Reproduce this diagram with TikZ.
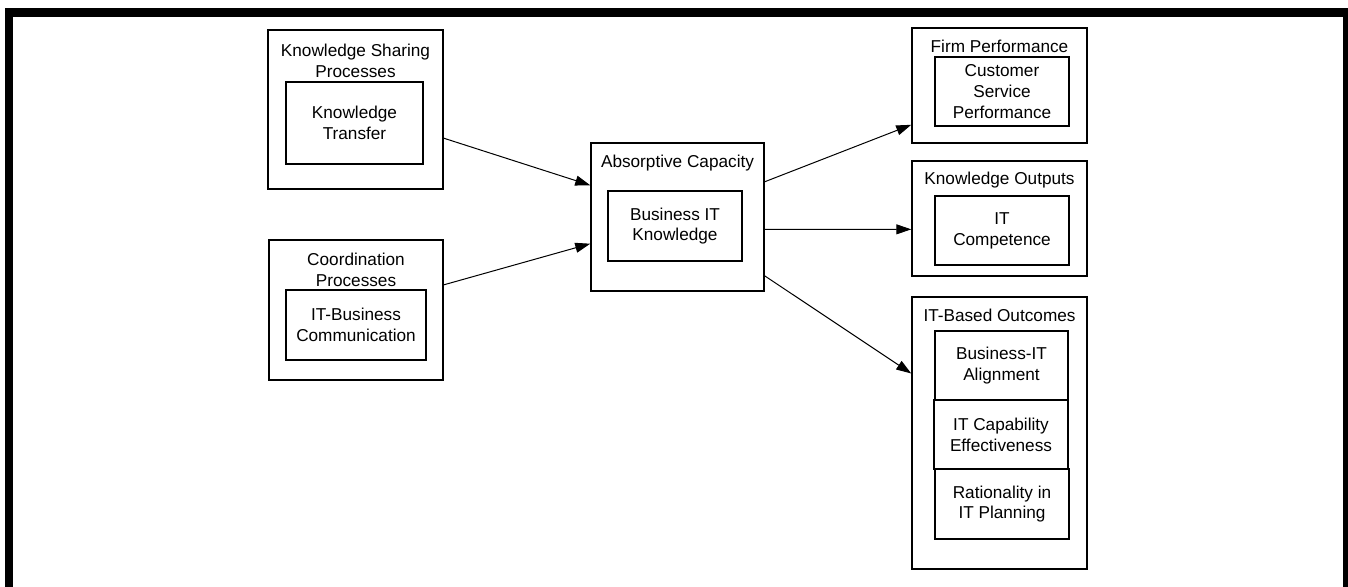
\documentclass[tikz,border=0pt]{standalone}
\usepackage{fontspec}
\setmainfont{Liberation Sans}
\usetikzlibrary{arrows.meta}
\begin{document}
\begin{tikzpicture}[x=0.5pt,y=-0.5pt,>={Triangle[length=7.5pt,width=5pt]},
    box/.style={draw,line width=0.75pt,inner sep=0pt},
    lbl/.style={align=center,inner sep=0pt,font=\fontsize{8.6}{10.4}\selectfont},
    outer/.style={box,minimum width=87.5pt},
    inner/.style={box,lbl,minimum width=67pt,minimum height=34.5pt},
    link/.style={->,line width=0.5pt}]
    \useasboundingbox (0,0) rectangle (1348,586);
    % frame
    \draw[line width=4.25pt] (9,590)--(9,12.5)--(1347,12.5)--(1347,590);
    % left column
    \node[outer,minimum height=79.5pt] (ksp) at (355.5,109.5) {};
    \node[lbl] (ksp-t) at (355.5,61) {Knowledge Sharing\\Processes};
    \node[inner,minimum width=68.5pt,minimum height=41pt] (kt) at (354.5,123) {Knowledge\\Transfer};
    \node[outer,minimum width=87pt,minimum height=70pt] (cp) at (356,310) {};
    \node[lbl] (cp-t) at (356,270) {Coordination\\Processes};
    \node[inner,minimum width=70pt,minimum height=35pt] (ibc) at (356,325) {IT-Business\\Communication};
    % middle
    \node[outer,minimum width=86.5pt,minimum height=74pt] (ac) at (677.5,217) {};
    \node[lbl] (ac-t) at (677.5,163) {Absorptive Capacity};
    \node[inner,minimum height=35pt] (bik) at (675,226) {Business IT\\Knowledge};
    % right column
    \node[outer,minimum height=57.5pt] (fp) at (999.5,85.5) {};
    \node[lbl] (fp-t) at (999.5,46.5) {Firm Performance};
    \node[inner] (csp) at (1002,91.5) {Customer\\Service\\Performance};
    \node[outer,minimum height=57.5pt] (ko) at (999.5,218.5) {};
    \node[lbl] (ko-t) at (999.5,180) {Knowledge Outputs};
    \node[inner] (itc) at (1002,230.5) {IT\\Competence};
    \node[outer,minimum height=136pt] (ito) at (999.5,433) {};
    \node[lbl] (ito-t) at (999.5,315.5) {IT-Based Outcomes};
    \node[inner,minimum width=66.5pt] (bia) at (1001.5,365.5) {Business-IT\\Alignment};
    \node[inner] (ice) at (1001,434.5) {IT Capability\\Effectiveness};
    \node[inner,minimum height=35pt] (rip) at (1002,504) {Rationality in\\IT Planning};
    % arrows
    \draw[link] (ksp.-18.6) -- (ac.160.9);
    \draw[link] (cp.16.6) -- (ac.-163.3);
    \draw[link] (ac.22.4) -- (fp.-156.8);
    \draw[link] (ac.-8.5) -- (ko.187.5);
    \draw[link] (ac.-34.4) -- (ito.146);
\end{tikzpicture}
\end{document}
